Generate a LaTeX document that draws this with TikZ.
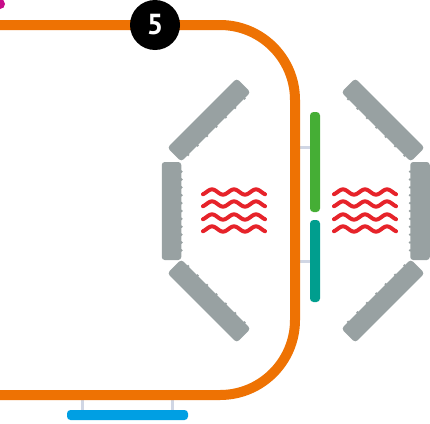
\documentclass[tikz,border=0pt]{standalone}
\usepackage{fontspec}
\setmainfont{PT Sans}
\definecolor{track}{HTML}{EE7203}
\definecolor{green}{HTML}{45AE35}
\definecolor{teal}{HTML}{009E8E}
\definecolor{blue}{HTML}{009FE3}
\definecolor{steel}{HTML}{98A1A2}
\definecolor{plum}{HTML}{C70C8A}
\definecolor{link}{HTML}{D0D6E4}
\definecolor{heat}{HTML}{E6232A}
\usetikzlibrary{calc}
\tikzset{
  panel/.style={draw=none,fill=steel,rounded corners=3pt,minimum width=98pt,minimum height=19.5pt,inner sep=0pt},
  panel_up/.style={panel,minimum width=19.5pt,minimum height=98pt},
  bar/.style={draw=none,rounded corners=3.5pt,minimum width=10pt,inner sep=0pt},
  lnk/.style={draw=link,line width=3pt},
  wave/.style={draw=heat,line width=4pt,line cap=round},
}

\begin{document}
\begin{tikzpicture}[x=1pt,y=-1pt]
  \useasboundingbox (0,0) rectangle (430,423);

  % track
  \coordinate (tr_e1) at (295,147);
  \coordinate (tr_e2) at (295,261);
  \coordinate (tr_s1) at (82,395);
  \coordinate (tr_s2) at (172,395);

  % bars next to the track
  \node[bar,fill=green,minimum height=100pt] (gbar) at (315,162) {};
  \node[bar,fill=teal,minimum height=82pt] (tbar) at (315,261) {};
  \node[bar,fill=blue,minimum width=121pt,minimum height=10pt] (bbar) at (127.5,415) {};

  \draw[lnk] (tr_e1) -- (tr_e1 -| gbar.west);
  \draw[lnk] (tr_e2) -- (tr_e2 -| tbar.west);
  \draw[lnk] (tr_s1) -- (tr_s1 |- bbar.north);
  \draw[lnk] (tr_s2) -- (tr_s2 |- bbar.north);

  \draw[draw=track,line width=10pt] (-5,25) -- (220,25) arc[start angle=90,end angle=0,radius=75pt]
    -- (295,320) arc[start angle=0,end angle=-90,radius=75pt] -- (-5,395);

  \node[circle,fill=black,minimum size=50pt,inner sep=0pt,text=white,font=\fontsize{29}{29}\selectfont\bfseries] (num) at (155,25) {5};
  \node[circle,fill=plum,minimum size=10pt,inner sep=0pt] (dot) at (0,4) {};

  % panels
  \node[panel_up] (pl) at (171.5,211) {};
  \node[panel_up] (pr) at (420,211) {};
  \node[panel,rotate=45] (pl1) at (209,120) {};
  \node[panel,rotate=-45] (pl2) at (209,301) {};
  \node[panel,rotate=-45] (pr1) at (383,120) {};
  \node[panel,rotate=45] (pr2) at (383,301) {};

  \foreach \pname/\pa/\pb/\pstep in {pl/north east/south east/0.08,pr/north west/south west/0.08,
      pl1/south west/south east/0.135,pl2/north west/north east/0.135,
      pr1/south west/south east/0.135,pr2/north west/north east/0.135}{
    \pgfmathsetmacro{\pnext}{0.1+\pstep}
    \foreach \t in {0.1,\pnext,...,0.93}
      \fill[steel] ($(\pname.\pa)!\t!(\pname.\pb)$) circle (1.4pt);
  }

  % heat
  \foreach \wx in {201,332}
    \foreach \wy in {192,204,217,229}
      \draw[wave] plot[domain=2:64,samples=63] ({\wx+\x},{\wy+2.6*cos(\x/22*360)});
\end{tikzpicture}
\end{document}
